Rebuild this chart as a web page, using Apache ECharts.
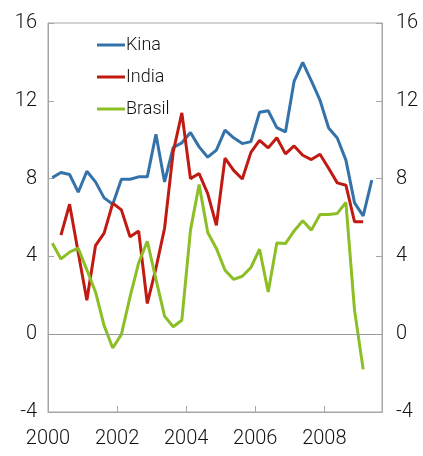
<!DOCTYPE html>
<html>
<head>
<meta charset="utf-8">
<script src="https://cdn.jsdelivr.net/npm/echarts@6/dist/echarts.min.js"></script>
<style>
  html, body { margin: 0; padding: 0; background: #fff; }
  #chart { width: 423px; height: 456px; }
</style>
</head>
<body>
<div id="chart"></div>
<script>
// kvartalsvise tall, 2000K1 - 2009K2
var startYear = 2000;
var kina = [8.05, 8.31, 8.21, 7.30, 8.38, 7.83, 7.01, 6.68, 7.97, 7.97, 8.09, 8.09,
    10.28, 7.83, 9.6, 9.84, 10.37, 9.63, 9.1, 9.46, 10.49, 10.1, 9.8, 9.9,
    11.41, 11.49, 10.62, 10.4, 13.0, 13.98, 13.02, 12.03, 10.6, 10.09, 8.95, 6.75,
    6.08, 7.92];
var india = [null, 5.09, 6.68, 4.2, 1.75, 4.55, 5.2, 6.74, 6.39, 5.01, 5.3, 1.58,
    3.39, 5.45, 9.37, 11.38, 8.0, 8.26, 7.23, 5.6, 9.05, 8.42, 7.98, 9.35,
    9.96, 9.58, 10.1, 9.27, 9.68, 9.2, 8.98, 9.25, 8.53, 7.78, 7.66, 5.78,
    5.78];
var brasil = [4.68, 3.87, 4.22, 4.42, 3.31, 2.17, 0.44, -0.71, -0.01, 1.92, 3.67, 4.78,
    2.83, 0.93, 0.38, 0.72, 5.35, 7.69, 5.23, 4.41, 3.29, 2.82, 2.98, 3.43,
    4.37, 2.17, 4.69, 4.66, 5.31, 5.83, 5.35, 6.15, 6.15, 6.21, 6.77, 1.23,
    -1.81];
var yTicks = [-4, 0, 4, 8, 12, 16];

var colors = ['#3473aa', '#c01a12', '#8cbf26'];
var fontName = 'Roboto';

// midt i kvartalet
function toPairs(values) {
    var out = [];
    for (var i = 0; i < values.length; i++) {
        out.push([startYear + (i + 0.5) / 4, values[i]]);
    }
    return out;
}

var myChart = echarts.init(document.getElementById('chart'));

function yAxisDef(pos) {
    return {
        type: 'value',
        position: pos,
        min: yTicks[0],
        max: yTicks[yTicks.length - 1],
        interval: 4,
        axisLine: { show: true, lineStyle: { color: '#a6a6a6', width: 1 } },
        axisTick: { show: true, inside: true, length: 6, lineStyle: { color: '#a6a6a6' } },
        splitLine: { show: false },
        axisLabel: {
            color: '#111',
            fontFamily: fontName,
            fontWeight: 300,
            fontSize: 20,
            margin: pos == 'left' ? 11 : 14
        }
    };
}

var option = {
    animation: false,
    grid: {
        left: 48,
        right: 41,
        top: 23,
        bottom: 44,
        show: true,
        borderColor: '#a6a6a6',
        borderWidth: 1
    },
    legend: {
        orient: 'vertical',
        left: 92,
        top: 31,
        itemWidth: 28,
        itemHeight: 3,
        itemGap: 14,
        icon: 'rect',
        textStyle: { fontFamily: fontName, fontWeight: 300, fontSize: 18, color: '#111', padding: [0, 0, 0, -4] },
        data: ['Kina', 'India', 'Brasil']
    },
    xAxis: {
        type: 'value',
        min: 2000,
        max: 2009.67,
        interval: 2,
        axisLine: { show: true, onZero: false, lineStyle: { color: '#a6a6a6' } },
        axisTick: { show: true, inside: true, length: 6, lineStyle: { color: '#a6a6a6' } },
        splitLine: { show: false },
        axisLabel: {
            color: '#111',
            fontFamily: fontName,
            fontWeight: 300,
            fontSize: 20,
            margin: 17,
            showMaxLabel: false,
            formatter: function (v) { return String(v); }
        }
    },
    yAxis: [yAxisDef('left'), yAxisDef('right')],
    series: [
        {
            name: 'Kina',
            type: 'line',
            data: toPairs(kina),
            symbol: 'none',
            lineStyle: { width: 3, color: colors[0] },
            itemStyle: { color: colors[0] },
            markLine: {
                silent: true,
                symbol: 'none',
                label: { show: false },
                lineStyle: { color: '#999', width: 1, type: 'solid' },
                data: [{ yAxis: 0 }]
            },
            z: 3
        },
        {
            name: 'India',
            type: 'line',
            data: toPairs(india),
            symbol: 'none',
            lineStyle: { width: 3, color: colors[1] },
            itemStyle: { color: colors[1] },
            z: 3
        },
        {
            name: 'Brasil',
            type: 'line',
            data: toPairs(brasil),
            symbol: 'none',
            lineStyle: { width: 3, color: colors[2] },
            itemStyle: { color: colors[2] },
            z: 3
        }
    ]
};
myChart.setOption(option);
</script>
</body>
</html>
